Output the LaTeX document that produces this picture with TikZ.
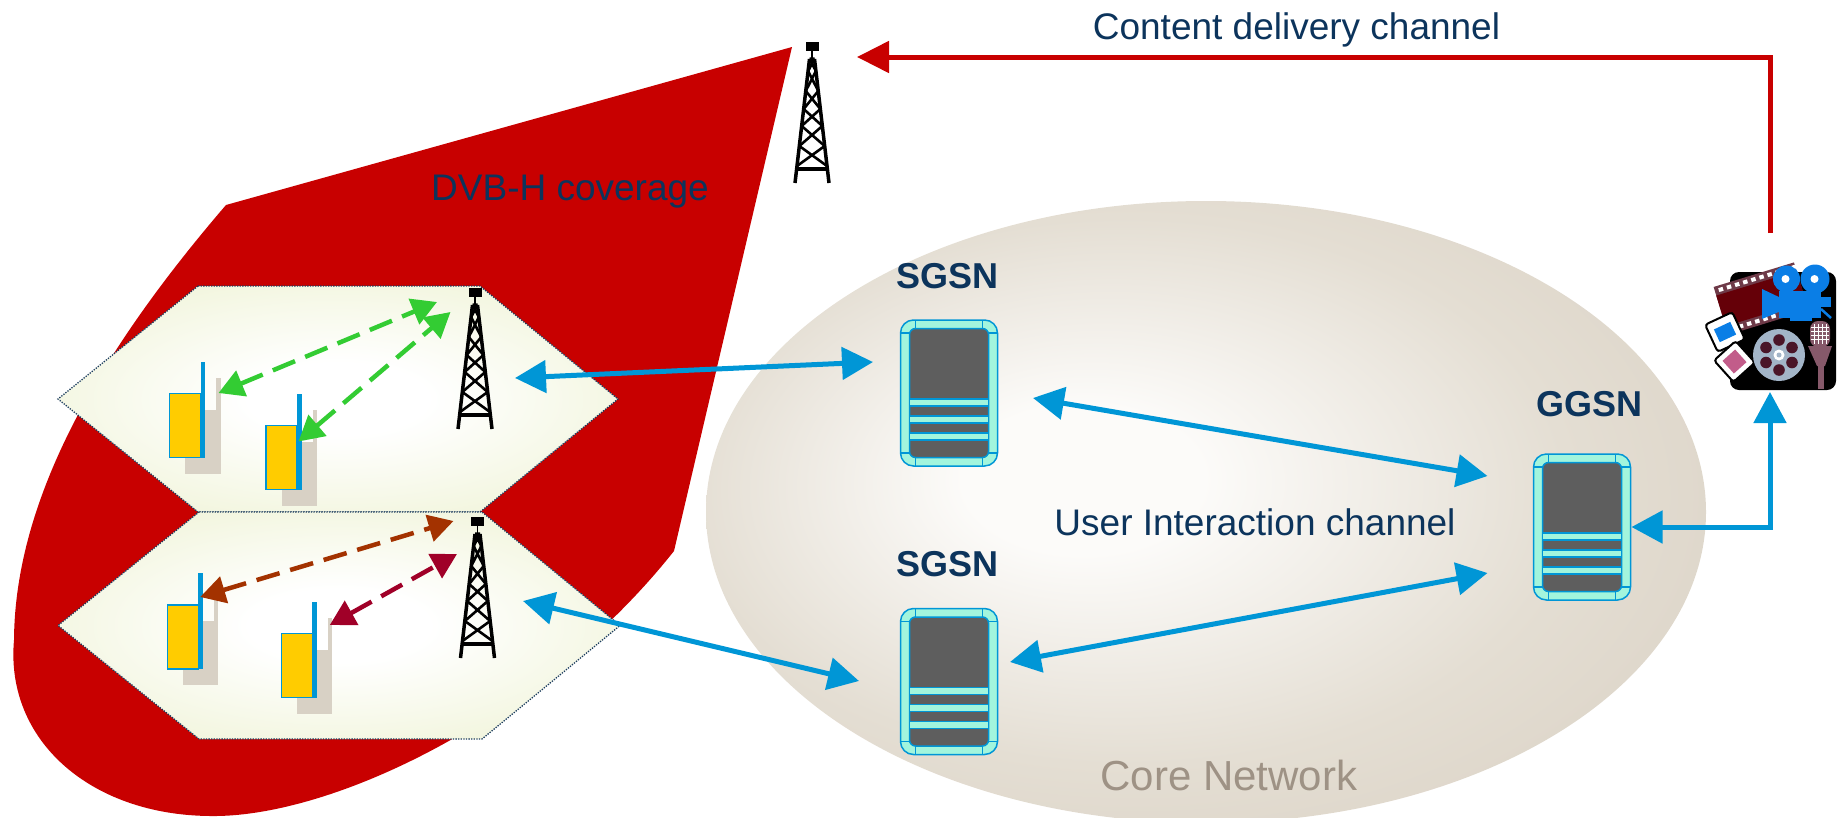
\documentclass[tikz,border=0pt]{standalone}
\usepackage{fontspec}
\setmainfont{Liberation Sans}
\usetikzlibrary{arrows.meta}

\definecolor{covred}{HTML}{C80000}
\definecolor{navy}{HTML}{0C345C}
\definecolor{coregray}{HTML}{9E9285}
\definecolor{linkblue}{HTML}{0096D6}
\definecolor{srvaqua}{HTML}{A2F5DD}
\definecolor{srvgray}{HTML}{5E5E5E}
\definecolor{hexedge}{HTML}{EBF0CB}
\definecolor{hexline}{HTML}{1C3D5E}
\definecolor{coreedge}{HTML}{D9D0C3}
\definecolor{coremid}{HTML}{E4DED3}
\definecolor{corecentre}{HTML}{FCFBF9}
\definecolor{phyellow}{HTML}{FFCC00}
\definecolor{phshadow}{HTML}{D8D1C5}
\definecolor{dgreen}{HTML}{33CC33}
\definecolor{rust}{HTML}{A33200}
\definecolor{wine}{HTML}{A00028}
\definecolor{filmred}{HTML}{650008}
\definecolor{filmedge}{HTML}{6E3A48}
\definecolor{camblue}{HTML}{0A7EE6}
\definecolor{reelgray}{HTML}{A3B5C8}
\definecolor{reelhole}{HTML}{4A1528}
\definecolor{micmauve}{HTML}{86596A}
\definecolor{slidepink}{HTML}{C25C8A}

\pgfdeclareradialshading{hexfill}{\pgfpoint{0bp}{0bp}}{color(0bp)=(white); color(8bp)=(white); color(40bp)=(hexedge); color(50bp)=(hexedge)}
\pgfdeclareradialshading{corefill}{\pgfpoint{-7bp}{3bp}}{color(0bp)=(corecentre); color(6bp)=(corecentre); color(22bp)=(coremid); color(36bp)=(coreedge); color(50bp)=(coreedge)}

\tikzset{
  lbl/.style={text=navy, inner sep=0pt, font=\fontsize{37pt}{44pt}\selectfont},
  corelbl/.style={text=coregray, inner sep=0pt, font=\fontsize{42pt}{50pt}\selectfont},
  srvlbl/.style={text=navy, inner sep=0pt, font=\fontsize{36pt}{43pt}\selectfont\bfseries},
  hexborder/.style={draw=hexline, line width=1.3pt, dash pattern=on 1.3pt off 1.3pt},
  spot/.style={inner sep=0pt, outer sep=0pt},
  phonespot/.style={spot, minimum width=31pt, minimum height=64pt},
  towerspot/.style={spot, minimum width=34pt, minimum height=140pt},
  blink/.style={draw=linkblue, line width=5pt,
    arrows={Triangle[length=31pt,width=32pt]-Triangle[length=31pt,width=32pt]}},
  redlink/.style={draw=covred, line width=5pt, arrows={-Triangle[length=32pt,width=31pt]}},
  radiolink/.style={line width=4.5pt, dash pattern=on 24pt off 11pt,
    arrows={Triangle[length=25pt,width=27pt]-Triangle[length=25pt,width=27pt]}},
  server/.style={draw=linkblue, line width=1.5pt, fill=srvaqua, rounded corners=13pt,
    minimum width=97pt, minimum height=146pt, inner sep=0pt, outer sep=0pt,
    path picture={
      \begin{scope}[shift={(path picture bounding box.center)}, sharp corners, line width=1.5pt, draw=linkblue]
        \filldraw[fill=srvgray, rounded corners=6pt] (-39.5,-64.5) rectangle (39.5,64.5);
        \draw (-33.5,-73) -- (-33.5,-64.5) (33.5,-73) -- (33.5,-64.5)
              (-33.5,73) -- (-33.5,64.5) (33.5,73) -- (33.5,64.5);
        \draw (-48.5,-60) -- (-39.5,-60) (39.5,-60) -- (48.5,-60)
              (-48.5,60) -- (-39.5,60) (39.5,60) -- (48.5,60);
        \foreach \b in {6,23,40}
          \filldraw[fill=srvaqua, line width=1.2pt] (-39.5,\b) rectangle (39.5,\b+7);
      \end{scope}}},
  tower/.pic={
    \fill (-6.5,-17) rectangle (6.5,-8);
    \draw[line width=1.5pt] (0,-8) -- (0,0);
    \draw[line width=3.5pt] (-2.5,0) -- (-17,124) (2.5,0) -- (17,124) (-2.5,0) -- (2.5,0);
    \draw[line width=2.6pt]
      (-2.5,0) -- (3.9,12) (2.5,0) -- (-3.9,12)
      (-3.9,12) -- (6.24,32) (3.9,12) -- (-6.24,32)
      (-6.24,32) -- (8.35,50) (6.24,32) -- (-8.35,50)
      (-8.35,50) -- (10.33,67) (8.35,50) -- (-10.33,67)
      (-10.33,67) -- (12.67,87) (10.33,67) -- (-12.67,87)
      (-12.67,87) -- (15.01,107) (12.67,87) -- (-15.01,107);
    \draw[line width=3.5pt] (-15.4,110) -- (15.4,110);
  }
}

\begin{document}
\begin{tikzpicture}[x=1pt, y=-1pt]
\useasboundingbox (0,0) rectangle (1837,817);
\clip (0,0) rectangle (1837,817);

% DVB-H coverage area
\fill[covred] (792,47) -- (226,205)
  .. controls (110,340) and (15,490) .. (14,640)
  .. controls (5,740) and (90,815) .. (210,816)
  .. controls (330,818) and (540,720) .. (674,551) -- cycle;

% core network cloud
\shade[shading=corefill] (1206,512) ellipse [x radius=500, y radius=311];

% radio cells
\shadedraw[shading=hexfill, hexborder] (198,286) -- (480,286) -- (618,399) -- (480,512) -- (198,512) -- (58,399) -- cycle;
\shadedraw[shading=hexfill, hexborder] (199,512) -- (482,512) -- (620,625.5) -- (482,739) -- (199,739) -- (58,625.5) -- cycle;

% labels
\node[lbl, anchor=base] (dvb) at (570,200) {DVB-H coverage};
\node[lbl, anchor=base] (cdc) at (1296.5,39) {Content delivery channel};
\node[lbl, anchor=base] (uic) at (1255,535) {User Interaction channel};
\node[corelbl, anchor=base] (core) at (1229,790) {Core Network};
\node[srvlbl, anchor=base] (sgsnlbla) at (947.5,288) {SGSN};
\node[srvlbl, anchor=base] (sgsnlblb) at (947.5,576) {SGSN};
\node[srvlbl, anchor=base] (ggsnlbl) at (1589.5,416) {GGSN};

% transmitters
\node[towerspot, minimum height=144pt] (tw0) at (812,113) {};
\node[towerspot] (tw1) at (475,359) {};
\node[towerspot] (tw2) at (477.5,585) {};
\pic at (812,59) {tower};
\pic at (475,305) {tower};
\pic at (477.5,534) {tower};

% handsets
\foreach \p/\px/\py in {p1/185/425.5, p2/281.5/457.5, p3/182.7/637, p4/296.8/665.5}
  \node[phonespot] (\p) at (\px,\py) {};
\foreach \p in {p1,p2,p3,p4}{
  \fill[phshadow] ([shift={(15.5,16)}]\p.north west) rectangle ([shift={(20,16)}]\p.south east);
  \fill[phshadow] ([shift={(15.5,-16)}]\p.north east) rectangle ([shift={(20,16)}]\p.north east);
  \filldraw[fill=phyellow, draw=linkblue, line width=1.3pt] (\p.north west) rectangle (\p.south east);
  \fill[linkblue] ([shift={(0,-32)}]\p.north east) rectangle ([shift={(4.5,0)}]\p.south east);
}

% servers
\node[server] (sgsna) at (949,393) {};
\node[server] (sgsnb) at (949,681.5) {};
\node[server] (ggsn) at (1582,527) {};

% media source
\node[spot, minimum width=106pt, minimum height=118pt] (media) at (1783,331) {};
\fill[black, rounded corners=9pt] (1730,272) rectangle (1836,390);
\begin{scope}[shift={(1763,298)}, rotate=17]
  \fill[filmedge] (-44,-25) rectangle (40,25);
  \fill[filmred] (-44,-16) rectangle (40,16);
  \foreach \k in {0,...,9}{
    \fill[white] (-40+\k*8.5,-22.5) rectangle ++(4.5,4);
    \fill[white] (-40+\k*8.5,18.5) rectangle ++(4.5,4);
  }
\end{scope}
\fill[camblue] (1786.5,279) circle (13.5);
\fill[camblue] (1815,279) circle (14.5);
\fill[white] (1785.5,279) circle (4);
\fill[white] (1814.5,279) circle (4);
\fill[camblue] (1779,291) rectangle (1821,318);
\fill[camblue] (1762,289) -- (1781,298) -- (1781,311) -- (1762,319) -- cycle;
\fill[camblue] (1820,297) rectangle (1831,307);
\draw[camblue, line width=2.5pt] (1821,309) -- (1831,318);
\fill[camblue] (1790,316) rectangle (1812,321);
\begin{scope}[shift={(1725,332)}, rotate=25]
  \filldraw[fill=white, draw=black, line width=2pt, rounded corners=3pt] (-15,-15) rectangle (15,15);
  \fill[camblue] (-9,-7) rectangle (9,7);
\end{scope}
\begin{scope}[shift={(1734.5,361.5)}, rotate=42]
  \filldraw[fill=white, draw=black, line width=2pt, rounded corners=3pt] (-14.5,-14.5) rectangle (14.5,14.5);
  \fill[slidepink] (-8.5,-8.5) rectangle (8.5,8.5);
\end{scope}
\begin{scope}[shift={(1779,355)}]
  \fill[reelgray] (0,0) circle (26);
  \foreach \a in {30,90,...,330} \fill[reelhole] (\a:15) circle (5.8);
  \fill[white] (0,0) circle (5.5);
  \fill[reelgray] (0,0) circle (2.5);
\end{scope}
\fill[micmauve] (1808,346) -- (1832,346) -- (1825,366) -- (1817,366) -- cycle;
\fill[micmauve] (1818,364) rectangle (1824,389);
\fill[micmauve, rounded corners=8pt] (1810,321) rectangle (1830,347);
\foreach \gx in {1814,1818,1822,1826} \draw[white, line width=0.9pt] (\gx,324) -- (\gx,344);
\foreach \gy in {327,331,335,339} \draw[white, line width=0.9pt] (1811,\gy) -- (1829,\gy);

% radio links inside the cells
\draw[radiolink, dgreen] ([shift={(18,-0.5)}]p1.north east) -- ([shift={(-38,13)}]tw1.north);
\draw[radiolink, dgreen] ([shift={(1.5,16)}]p2.north east) -- ([shift={(-24.5,23)}]tw1.north);
\draw[radiolink, rust] ([shift={(2,-8)}]p3.north east) -- ([shift={(-24,6)}]tw2.north);
\draw[radiolink, wine] ([shift={(17.5,-8.5)}]p4.north east) -- ([shift={(-20.5,39)}]tw2.north);

% interaction links
\draw[blink] ([shift={(23,19)}]tw1.east) -- ([shift={(-27.5,-31)}]sgsna.west);
\draw[blink] ([shift={(28.5,16)}]tw2.east) -- ([shift={(-41.5,-0.5)}]sgsnb.west);
\draw[blink] ([shift={(35.5,5)}]sgsna.east) -- ([shift={(-46,-51)}]ggsn.west);
\draw[blink] ([shift={(12.5,-19.5)}]sgsnb.east) -- ([shift={(-46,46)}]ggsn.west);
\draw[blink] ([shift={(-13,2)}]media.south) |- ([xshift=1pt]ggsn.east);

% content delivery
\draw[redlink] ([shift={(-13,-39)}]media.north) |- ([shift={(45,16)}]tw0.north);
\end{tikzpicture}
\end{document}
